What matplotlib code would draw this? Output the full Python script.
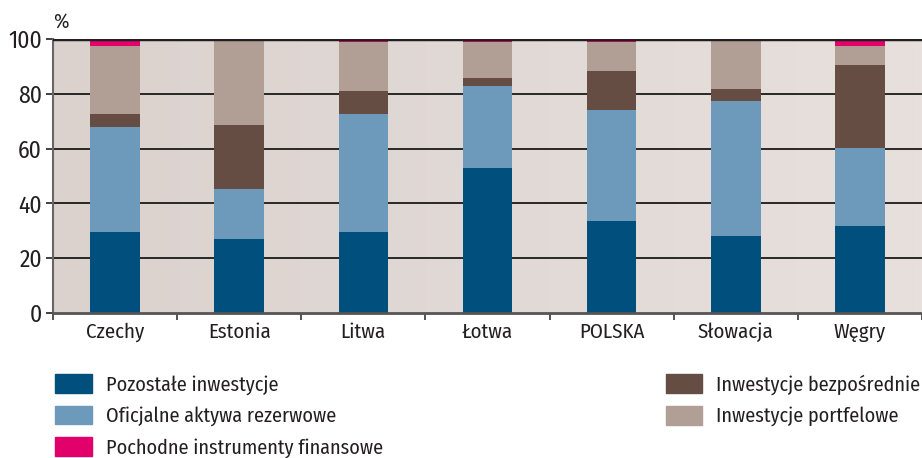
import numpy as np
import matplotlib
matplotlib.use('Agg')
import matplotlib.pyplot as plt
from matplotlib.patches import Patch
from matplotlib.colors import LinearSegmentedColormap

plt.rcParams['font.family'] = ['Fira Sans Condensed', 'DejaVu Sans']
plt.rcParams['font.weight'] = 'normal'

countries = ['Czechy', 'Estonia', 'Litwa', 'Łotwa', 'POLSKA', 'Słowacja', 'Węgry']
pozostale = [29.7, 27.1, 29.7, 52.9, 33.7, 28.1, 31.8]
oficjalne = [38.2, 18.2, 42.9, 29.9, 40.4, 49.3, 28.5]
bezposrednie = [4.7, 23.3, 8.4, 3.0, 14.2, 4.4, 30.2]
portfelowe = [25.0, 31.4, 17.9, 13.1, 10.6, 18.2, 7.1]
pochodne = [2.4, 0.0, 1.1, 1.1, 1.1, 0.0, 2.4]

series = [
    ('Pozostałe inwestycje', pozostale, '#004f7c'),
    ('Oficjalne aktywa rezerwowe', oficjalne, '#6d99ba'),
    ('Inwestycje bezpośrednie', bezposrednie, '#654d43'),
    ('Inwestycje portfelowe', portfelowe, '#b19e94'),
    ('Pochodne instrumenty finansowe', pochodne, '#e2006a'),
]

fig = plt.figure(figsize=(9.22, 4.58), dpi=100)
ax = fig.add_axes([0.0575, 0.3166, 0.9425, 0.5982])

# background gradient, darker on the left
grad = np.linspace(0, 1, 256).reshape(1, -1)
bg = LinearSegmentedColormap.from_list('bg', ['#dbd2ce', '#e7e0dd'])
ax.imshow(grad, cmap=bg, aspect='auto', extent=[0, 1, 0, 1],
          transform=ax.transAxes, zorder=0)

x = np.arange(len(countries))
bottom = np.zeros(len(countries))
for name, vals, col in series:
    ax.bar(x, vals, width=0.4, bottom=bottom, color=col, zorder=3)
    bottom += np.array(vals)

ax.set_xlim(-0.5, len(countries) - 0.5)
ax.set_ylim(0, 100)
ax.set_yticks([0, 20, 40, 60, 80, 100])
for v in [20, 40, 60, 80]:
    ax.axhline(v, color='#1a1a1a', lw=1.3, zorder=1)
ax.axhline(100, color='#231f20', lw=2.5, zorder=4)

ax.set_xticks(x)
ax.set_xticklabels(countries)
ax.set_xticks(np.arange(len(countries) + 1) - 0.5, minor=True)
ax.tick_params(axis='x', which='major', length=0, pad=7, labelsize=15,
               colors='#231f20')
ax.tick_params(axis='x', which='minor', length=5, width=1.3, color='#444444')
ax.tick_params(axis='y', length=5, width=1.2, pad=3, labelsize=17,
               colors='#231f20')

for s in ['top', 'right']:
    ax.spines[s].set_visible(False)
ax.spines['left'].set_color('#666666')
ax.spines['left'].set_linewidth(1.5)
ax.spines['bottom'].set_color('#555555')
ax.spines['bottom'].set_linewidth(2)
ax.spines['bottom'].set_zorder(5)

fig.text(0.058, 0.94, '%', fontsize=15, color='#231f20')

colors = {n: c for n, v, c in series}
left_items = ['Pozostałe inwestycje', 'Oficjalne aktywa rezerwowe',
              'Pochodne instrumenty finansowe']
right_items = ['Inwestycje bezpośrednie', 'Inwestycje portfelowe']

kw = dict(frameon=False, fontsize=14.5, handlelength=1.8, handleheight=1.05,
          handletextpad=0.7, labelspacing=0.55, borderpad=0, borderaxespad=0)
leg1 = fig.legend(handles=[Patch(color=colors[n], label=n) for n in left_items],
                  loc='upper left', bbox_to_anchor=(0.06, 0.183), **kw)
leg2 = fig.legend(handles=[Patch(color=colors[n], label=n) for n in right_items],
                  loc='upper left', bbox_to_anchor=(0.722, 0.183), **kw)
for leg in (leg1, leg2):
    for t in leg.get_texts():
        t.set_color('#231f20')

fig.savefig('out.png', dpi=100)
